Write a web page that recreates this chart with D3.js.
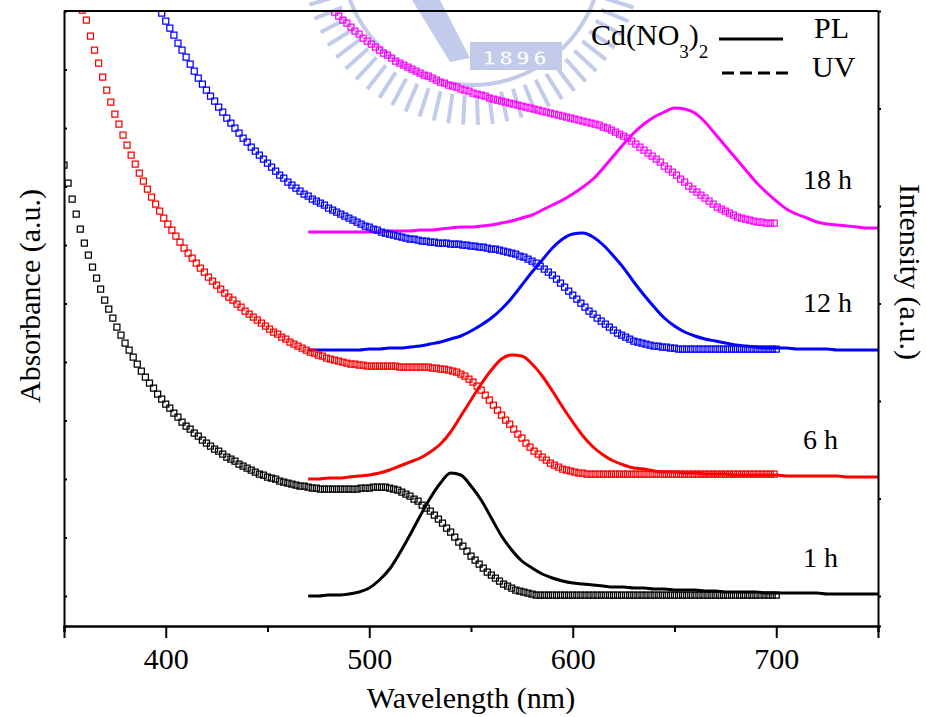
<!DOCTYPE html>
<meta charset="utf-8">
<style>
body { margin: 0; background: #fff; }
text { font-family: "Liberation Serif", "Times New Roman", serif; fill: #000; }
.axis path, .axis line { stroke: #000; stroke-width: 2px; }
.uv { fill: none; stroke-width: 1.25px; }
.pl { fill: none; stroke-width: 3px; stroke-linejoin: round; }
</style>
<svg width="926" height="717"></svg>
<script src="https://cdn.jsdelivr.net/npm/d3@7"></script>
<script>

// ---- data (a.u.) ----
var timeLabels = ["1 h", "6 h", "12 h", "18 h"];
var colors = ["#000000", "#ff0000", "#0000ff", "#ff00ff"];

// UV absorbance, one value every 2 nm from the start wavelength
var uvStep = 2;
var uvStart = [350, 359, 398, 483];
var uv1h = [
  431, 413, 397, 382, 367, 353, 341, 329, 318, 307,
  296, 287, 278, 269, 261, 253, 246, 239, 232, 225,
  219, 213, 208, 202, 197, 192, 188, 183, 179, 174,
  170, 167, 163, 160, 156, 153, 150, 147, 145, 142,
  139, 137, 135, 132, 130, 128, 126, 124, 122, 121,
  119, 118, 117, 115, 114, 113, 112, 111, 110, 110,
  109, 108, 108, 107, 107, 107, 107, 107, 107, 107,
  107, 107, 107, 108, 108, 108, 109, 109, 109, 109,
  108, 107, 106, 104, 102, 100, 97, 95, 91, 88,
  85, 81, 77, 73, 68, 64, 59, 54, 50, 45,
  40, 36, 32, 28, 24, 21, 18, 15, 12, 10,
  8, 6, 5, 4, 3, 2, 1, 1, 1, 1,
  1, 1, 1, 1, 1, 1, 1, 1, 1, 1,
  1, 1, 1, 1, 1, 1, 1, 1, 1, 1,
  1, 1, 1, 1, 1, 1, 1, 1, 1, 1,
  1, 1, 1, 1, 1, 1, 1, 1, 1, 1,
  1, 1, 1, 1, 1, 1, 1, 1, 1, 1,
  1, 1, 1, 1, 1, 1
];
var uv6h = [
  586, 576, 560, 546, 533, 519, 506, 494, 482, 472,
  461, 451, 441, 432, 423, 415, 407, 399, 392, 385,
  378, 372, 366, 360, 354, 348, 343, 338, 333, 328,
  324, 319, 315, 311, 307, 303, 299, 296, 292, 289,
  285, 282, 279, 276, 273, 270, 267, 264, 262, 259,
  257, 254, 252, 250, 248, 246, 244, 243, 241, 240,
  238, 237, 236, 235, 234, 233, 232, 232, 231, 231,
  230, 230, 230, 230, 230, 230, 230, 230, 229, 229,
  229, 229, 229, 229, 229, 229, 228, 228, 227, 227,
  226, 225, 224, 222, 220, 217, 214, 210, 206, 201,
  196, 191, 186, 181, 176, 172, 167, 162, 158, 153,
  149, 145, 142, 139, 136, 133, 131, 129, 127, 126,
  125, 124, 123, 123, 122, 122, 122, 122, 122, 122,
  122, 122, 122, 122, 122, 122, 122, 122, 122, 122,
  122, 122, 122, 122, 122, 122, 122, 122, 122, 122,
  122, 122, 122, 122, 122, 122, 122, 122, 122, 122,
  122, 122, 122, 122, 122, 122, 122, 122, 122, 122,
  122
];
var uv12h = [
  583, 575, 568, 561, 553, 546, 539, 532, 525, 518,
  512, 506, 500, 495, 489, 484, 478, 473, 468, 463,
  458, 454, 449, 445, 441, 437, 433, 429, 425, 421,
  418, 414, 411, 408, 405, 402, 400, 397, 395, 393,
  391, 388, 386, 384, 382, 380, 378, 376, 374, 372,
  370, 369, 367, 366, 364, 363, 362, 361, 360, 359,
  358, 357, 357, 356, 355, 355, 354, 354, 353, 353,
  353, 352, 352, 352, 351, 351, 350, 350, 349, 349,
  348, 347, 347, 346, 345, 344, 343, 342, 340, 339,
  337, 335, 333, 330, 327, 324, 321, 317, 313, 309,
  305, 301, 297, 293, 289, 285, 282, 278, 275, 272,
  269, 266, 263, 261, 259, 257, 255, 254, 253, 252,
  251, 250, 250, 249, 249, 248, 248, 247, 247, 247,
  247, 247, 247, 247, 247, 247, 247, 247, 247, 247,
  247, 247, 247, 247, 247, 247, 247, 247, 247, 247,
  247, 247
];
var uv18h = [
  584, 580, 576, 573, 569, 565, 562, 558, 555, 552,
  549, 546, 543, 541, 538, 535, 533, 531, 529, 527,
  525, 523, 521, 520, 518, 516, 514, 513, 511, 510,
  509, 507, 506, 505, 503, 502, 501, 500, 498, 497,
  496, 495, 494, 493, 492, 491, 490, 489, 488, 487,
  486, 485, 484, 483, 482, 481, 480, 479, 478, 477,
  476, 475, 474, 473, 472, 471, 469, 468, 466, 464,
  462, 460, 458, 455, 452, 449, 446, 443, 440, 437,
  434, 430, 427, 424, 421, 417, 414, 410, 407, 404,
  401, 398, 395, 392, 389, 387, 385, 383, 381, 379,
  378, 377, 376, 375, 374, 374, 373, 373, 373
];

// PL intensity, one value every 5 nm from 470 to 750 nm
var plStart = 470, plStep = 5;
var pl1h = [
  0, 0, 1, 1, 2, 4, 8, 16, 27, 43,
  61, 80, 98, 113, 123, 121, 110, 96, 78, 60,
  46, 35, 28, 22, 18, 15, 13, 12, 11, 10,
  9, 9, 8, 8, 7, 7, 6, 6, 6, 5,
  5, 4, 4, 4, 4, 3, 3, 3, 3, 3,
  3, 2, 2, 2, 2, 2, 2
];
var pl6h = [
  117, 117, 118, 118, 119, 120, 121, 123, 126, 130,
  134, 138, 144, 152, 164, 180, 196, 212, 226, 237,
  241, 240, 232, 220, 205, 189, 174, 160, 149, 141,
  135, 131, 128, 127, 125, 124, 124, 123, 123, 122,
  122, 122, 121, 121, 121, 121, 121, 120, 120, 120,
  120, 120, 120, 119, 119, 119, 119
];
var pl12h = [
  246, 246, 246, 246, 246, 246, 247, 247, 248, 248,
  249, 250, 252, 254, 257, 260, 265, 271, 278, 287,
  298, 311, 324, 336, 348, 357, 362, 363, 359, 351,
  340, 328, 314, 301, 289, 278, 270, 264, 260, 257,
  255, 253, 251, 250, 249, 248, 248, 248, 247, 247,
  247, 247, 246, 246, 246, 246, 246
];
var pl18h = [
  364, 364, 364, 364, 364, 364, 364, 364, 365, 365,
  365, 366, 366, 367, 368, 369, 369, 370, 371, 373,
  375, 378, 381, 386, 391, 396, 402, 409, 417, 428,
  440, 452, 463, 472, 479, 484, 488, 487, 483, 474,
  462, 450, 438, 426, 414, 404, 395, 387, 382, 378,
  374, 372, 371, 370, 369, 368, 368
];

var xMajor = [400, 500, 600, 700];
var xMinor = [350, 450, 550, 650, 750];
var absTicks = [0, 58.5, 117, 175.5, 234, 292.5, 351, 409.5, 468, 526.5];
var intTicks = [0, 97.5, 195, 292.5, 390, 487.5];

var uvSeries = [uv1h, uv6h, uv12h, uv18h];
var plSeries = [pl1h, pl6h, pl12h, pl18h];

// ---- layout ----
var svg = d3.select("svg"),
    margin = {top: 11, right: 48, bottom: 91, left: 64},
    width = +svg.attr("width") - margin.left - margin.right,
    height = +svg.attr("height") - margin.top - margin.bottom;

var x = d3.scaleLinear().domain([350, 750]).range([0, width]);
var y = d3.scaleLinear().domain([-30, 585]).range([height, 0]);

// faint watermark (school seal) behind the plot
var wm = svg.append("g").attr("fill", "#c3cbea").attr("stroke", "#c3cbea");
d3.range(8, 175, 5).forEach(function(a) {
  var r = a * Math.PI / 180;
  wm.append("line")
    .attr("x1", 472 + 140 * Math.cos(r)).attr("y1", -45 + 140 * Math.sin(r))
    .attr("x2", 472 + 170 * Math.cos(r)).attr("y2", -45 + 170 * Math.sin(r))
    .attr("stroke-width", 4);
});
wm.append("path")
  .attr("d", d3.arc()({innerRadius: 128, outerRadius: 132, startAngle: Math.PI * 0.6, endAngle: Math.PI * 1.4}))
  .attr("transform", "translate(472,-45)").attr("stroke", "none");
wm.append("path").attr("d", "M412,0 L440,0 L470,58 L450,62 Z").attr("stroke", "none");
wm.append("rect").attr("x", 470).attr("y", 42).attr("width", 92).attr("height", 28).attr("stroke", "none");
wm.append("text").attr("x", 516).attr("y", 65).attr("text-anchor", "middle")
  .style("fill", "#fff").style("font-family", "DejaVu Sans").style("font-weight", "bold")
  .style("font-size", "20px").style("letter-spacing", "3px").text("1896");

var g = svg.append("g").attr("transform", "translate(" + margin.left + "," + margin.top + ")");

g.append("clipPath").attr("id", "clip")
  .append("rect").attr("width", width).attr("height", height);

var plot = g.append("g").attr("clip-path", "url(#clip)");

var line = d3.line()
    .x(function(d) { return x(d[0]); })
    .y(function(d) { return y(d[1]); })
    .curve(d3.curveMonotoneX);

plSeries.forEach(function(s, i) {
  var pts = s.map(function(v, j) { return [plStart + j * plStep, v]; });
  plot.append("path").datum(pts)
    .attr("class", "pl")
    .attr("stroke", colors[i])
    .attr("d", line);
});

var square = d3.symbol().type(d3.symbolSquare).size(36);

uvSeries.forEach(function(s, i) {
  var pts = s.map(function(v, j) { return [uvStart[i] + j * uvStep, v]; });
  plot.append("g").selectAll("path")
    .data(pts)
    .enter().append("path")
      .attr("class", "uv")
      .attr("stroke", colors[i])
      .attr("d", square)
      .attr("transform", function(d) { return "translate(" + x(d[0]) + "," + y(d[1]) + ")"; });
});

// axes
g.append("g").attr("class", "axis")
  .attr("transform", "translate(0," + height + ")")
  .call(d3.axisBottom(x).tickValues(xMinor).tickSize(6).tickFormat(""));

g.append("g").attr("class", "axis")
  .attr("transform", "translate(0," + height + ")")
  .call(d3.axisBottom(x).tickValues(xMajor).tickSize(12).tickPadding(10).tickFormat(d3.format("d")))
  .selectAll("text").style("font-size", "30px");

g.append("g").attr("class", "axis")
  .call(d3.axisLeft(y).tickValues(absTicks).tickSize(-3).tickFormat(""));

g.append("g").attr("class", "axis")
  .attr("transform", "translate(" + width + ",0)")
  .call(d3.axisRight(y).tickValues(intTicks).tickSize(3).tickFormat(""));

g.append("line").attr("x1", 0).attr("x2", width).attr("y1", 0).attr("y2", 0)
  .attr("stroke", "#000").attr("stroke-width", 2);

// axis titles
svg.append("text")
  .attr("x", margin.left + width / 2).attr("y", 708)
  .attr("text-anchor", "middle").style("font-size", "30px")
  .text("Wavelength (nm)");

svg.append("text")
  .attr("transform", "translate(40," + (margin.top + 285) + ") rotate(-90)")
  .attr("text-anchor", "middle").style("font-size", "30px")
  .text("Absorbance (a.u.)");

svg.append("text")
  .attr("transform", "translate(900," + (margin.top + 261) + ") rotate(90)")
  .attr("text-anchor", "middle").style("font-size", "30px")
  .text("Intensity (a.u.)");

// time labels
var labelY = [567, 449, 312, 189];
timeLabels.forEach(function(t, i) {
  svg.append("text").attr("x", 803).attr("y", labelY[i])
    .style("font-size", "28px").text(t);
});

// legend
var leg = svg.append("g");
var cd = leg.append("text").attr("x", 591).attr("y", 45).style("font-size", "30px");
cd.append("tspan").text("Cd(NO");
cd.append("tspan").attr("dy", 13).style("font-size", "19px").text("3");
cd.append("tspan").attr("dy", -13).text(")");
cd.append("tspan").attr("dy", 13).style("font-size", "19px").text("2");

leg.append("line").attr("x1", 719).attr("x2", 783).attr("y1", 39).attr("y2", 39)
  .attr("stroke", "#000").attr("stroke-width", 3);
leg.append("line").attr("x1", 722).attr("x2", 789).attr("y1", 73).attr("y2", 73)
  .attr("stroke", "#000").attr("stroke-width", 3).attr("stroke-dasharray", "12,6");
leg.append("text").attr("x", 814).attr("y", 38).style("font-size", "30px").text("PL");
leg.append("text").attr("x", 812).attr("y", 77).style("font-size", "30px").text("UV");

</script>
